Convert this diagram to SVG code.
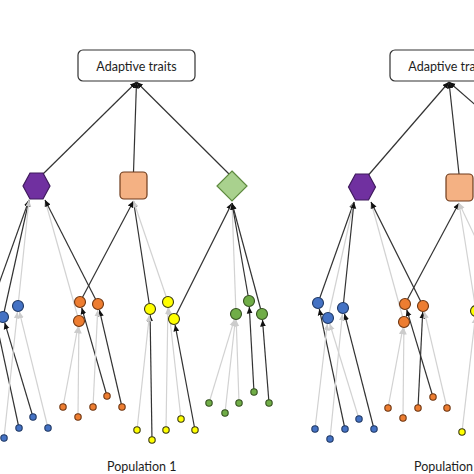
<svg xmlns="http://www.w3.org/2000/svg" width="474" height="474" viewBox="0 0 474 474">
<style>
.bg{fill:#ffffff}
.box{fill:#ffffff;stroke:#333333;stroke-width:1.2}
.lbl{font-family:Lato,"Open Sans","Liberation Sans",sans-serif;font-size:12.5px;fill:#1e1e1e}
.dk{stroke:#333333;stroke-width:1.2;fill:none;marker-end:url(#ad)}
.gr{stroke:#d2d2d2;stroke-width:1.2;fill:none;marker-end:url(#ag)}
.hex{fill:#7030a0;stroke:#3f1a5c;stroke-width:1.2}
.sq{fill:#f4b183;stroke:#6e3b1c;stroke-width:1.2}
.dia{fill:#a9d18e;stroke:#5e8a3f;stroke-width:1.2}
.b{fill:#4472c4;stroke:#1f3864;stroke-width:1.1}
.o{fill:#ed7d31;stroke:#6e3510;stroke-width:1.1}
.y{fill:#ffff00;stroke:#3a3a10;stroke-width:1.1}
.g{fill:#70ad47;stroke:#34501f;stroke-width:1.1}
</style>
<defs>
<marker id="ad" viewBox="0 0 10 10" refX="10" refY="5" markerWidth="6.5" markerHeight="6.5" markerUnits="userSpaceOnUse" orient="auto"><path d="M0,0.5 L10,5 L0,9.5 z" fill="#111111"/></marker>
<marker id="ag" viewBox="0 0 10 10" refX="10" refY="5" markerWidth="6.5" markerHeight="6.5" markerUnits="userSpaceOnUse" orient="auto"><path d="M0,0.5 L10,5 L0,9.5 z" fill="#cccccc"/></marker>
</defs>
<rect class="bg" x="0" y="0" width="474" height="474"/>

<g id="connectors">
<!-- left: traits to box -->
<line class="dk" x1="43" y1="174" x2="136.5" y2="82"/>
<line class="dk" x1="133.5" y1="172" x2="136.5" y2="82"/>
<line class="dk" x1="229" y1="174" x2="136.5" y2="82"/>
<!-- left: circles to traits -->
<line class="dk" x1="-8" y1="303" x2="29" y2="200"/>
<line class="dk" x1="3" y1="317" x2="29" y2="200"/>
<line class="gr" x1="18" y1="306" x2="29" y2="200"/>
<line class="gr" x1="79" y1="321" x2="45" y2="200"/>
<line class="dk" x1="98" y1="304" x2="45" y2="200"/>
<line class="dk" x1="80" y1="302" x2="133.5" y2="201"/>
<line class="dk" x1="150" y1="309" x2="133.5" y2="201"/>
<line class="gr" x1="168" y1="302" x2="133.5" y2="201"/>
<line class="dk" x1="174" y1="319" x2="232" y2="203"/>
<line class="gr" x1="236" y1="314" x2="232" y2="203"/>
<line class="dk" x1="249" y1="301" x2="232" y2="203"/>
<line class="dk" x1="262" y1="314" x2="232" y2="203"/>
<!-- left: dots to circles -->
<line class="dk" x1="19" y1="428" x2="-6.7" y2="308.9"/>
<line class="dk" x1="33" y1="417" x2="4.7" y2="322.7"/>
<line class="gr" x1="4" y1="438" x2="17.4" y2="312"/>
<line class="gr" x1="48" y1="428" x2="19.4" y2="311.8"/>
<line class="dk" x1="107" y1="396" x2="81.7" y2="307.8"/>
<line class="dk" x1="122" y1="407" x2="99.4" y2="309.8"/>
<line class="gr" x1="93" y1="407" x2="97.7" y2="310"/>
<line class="gr" x1="63" y1="407" x2="77.9" y2="326.9"/>
<line class="gr" x1="78" y1="417" x2="78.9" y2="327"/>
<line class="dk" x1="152" y1="440" x2="150.1" y2="315"/>
<line class="gr" x1="137" y1="430" x2="149.4" y2="315"/>
<line class="gr" x1="166" y1="430" x2="167.9" y2="308"/>
<line class="gr" x1="181" y1="419" x2="168.7" y2="308"/>
<line class="dk" x1="195" y1="430" x2="175.1" y2="324.9"/>
<line class="gr" x1="209" y1="403" x2="234.3" y2="319.7"/>
<line class="gr" x1="225" y1="413" x2="235.3" y2="320"/>
<line class="gr" x1="239" y1="403" x2="236.2" y2="320"/>
<line class="dk" x1="254" y1="392" x2="249.3" y2="307"/>
<line class="dk" x1="269" y1="403" x2="262.5" y2="320"/>
<!-- right: traits to box -->
<line class="dk" x1="368.5" y1="175" x2="449" y2="82"/>
<line class="dk" x1="459" y1="174" x2="449" y2="82"/>
<line class="dk" x1="555" y1="174" x2="449" y2="82"/>
<!-- right: circles to traits -->
<line class="dk" x1="318" y1="303" x2="354" y2="202"/>
<line class="gr" x1="328" y1="318" x2="354" y2="202"/>
<line class="dk" x1="343" y1="308" x2="354" y2="202"/>
<line class="gr" x1="404" y1="322" x2="371" y2="202"/>
<line class="dk" x1="423" y1="306" x2="371" y2="202"/>
<line class="dk" x1="405" y1="304" x2="459" y2="203"/>
<line class="gr" x1="476" y1="311" x2="459" y2="203"/>
<line class="gr" x1="505" y1="300" x2="459" y2="203"/>
<!-- right: dots to circles -->
<line class="dk" x1="345" y1="429" x2="319.3" y2="308.9"/>
<line class="dk" x1="374" y1="429" x2="344.5" y2="313.8"/>
<line class="gr" x1="315" y1="429" x2="327.3" y2="324"/>
<line class="gr" x1="359" y1="419" x2="329.8" y2="323.7"/>
<line class="gr" x1="330" y1="439" x2="342.4" y2="314"/>
<line class="dk" x1="433" y1="397" x2="406.7" y2="309.7"/>
<line class="gr" x1="388" y1="408" x2="402.9" y2="327.9"/>
<line class="gr" x1="403" y1="418" x2="403.9" y2="328"/>
<line class="dk" x1="418" y1="408" x2="422.7" y2="312"/>
<line class="gr" x1="447" y1="408" x2="424.4" y2="311.8"/>
<line class="gr" x1="462" y1="432" x2="475.3" y2="317"/>
</g>

<!-- LEFT PANEL NODES -->
<g id="box1"><rect class="box" x="78" y="50" width="117" height="31" rx="5"/><text class="lbl" x="136.5" y="70.5" text-anchor="middle">Adaptive traits</text></g>
<g id="hex1"><polygon class="hex" points="30,173 43,173 50,186 43,199 30,199 23,186"/></g>
<g id="sq1"><rect class="sq" x="120" y="172" width="27" height="27" rx="4"/></g>
<g id="dia1"><polygon class="dia" points="232,171 247,186 232,201 217,186"/></g>
<g id="blue1"><circle class="b" cx="-8" cy="303" r="5.5"/><circle class="b" cx="3" cy="317" r="5.5"/><circle class="b" cx="18" cy="306" r="5.5"/></g>
<g id="orange1"><circle class="o" cx="80" cy="302" r="5.5"/><circle class="o" cx="98" cy="304" r="5.5"/><circle class="o" cx="79" cy="321" r="5.5"/></g>
<g id="yellow1"><circle class="y" cx="150" cy="309" r="5.5"/><circle class="y" cx="168" cy="302" r="5.5"/><circle class="y" cx="174" cy="319" r="5.5"/></g>
<g id="green1"><circle class="g" cx="236" cy="314" r="5.5"/><circle class="g" cx="249" cy="301" r="5.5"/><circle class="g" cx="262" cy="314" r="5.5"/></g>
<g id="bluedots1"><circle class="b" cx="4" cy="438" r="3.2"/><circle class="b" cx="19" cy="428" r="3.2"/><circle class="b" cx="33" cy="417" r="3.2"/><circle class="b" cx="48" cy="428" r="3.2"/></g>
<g id="orangedots1"><circle class="o" cx="63" cy="407" r="3.2"/><circle class="o" cx="78" cy="417" r="3.2"/><circle class="o" cx="93" cy="407" r="3.2"/><circle class="o" cx="107" cy="396" r="3.2"/><circle class="o" cx="122" cy="407" r="3.2"/></g>
<g id="yellowdots1"><circle class="y" cx="137" cy="430" r="3.2"/><circle class="y" cx="152" cy="440" r="3.2"/><circle class="y" cx="166" cy="430" r="3.2"/><circle class="y" cx="181" cy="419" r="3.2"/><circle class="y" cx="195" cy="430" r="3.2"/></g>
<g id="greendots1"><circle class="g" cx="209" cy="403" r="3.2"/><circle class="g" cx="225" cy="413" r="3.2"/><circle class="g" cx="239" cy="403" r="3.2"/><circle class="g" cx="254" cy="392" r="3.2"/><circle class="g" cx="269" cy="403" r="3.2"/></g>
<g id="pop1"><text class="lbl" x="107" y="470.5">Population 1</text></g>

<!-- RIGHT PANEL NODES -->
<g id="box2"><rect class="box" x="390" y="50" width="117" height="31" rx="5"/><text class="lbl" x="448.5" y="70.5" text-anchor="middle">Adaptive traits</text></g>
<g id="hex2"><polygon class="hex" points="355.5,174 368.5,174 375.5,187 368.5,200 355.5,200 348.5,187"/></g>
<g id="sq2"><rect class="sq" x="446" y="174" width="27" height="27" rx="4"/></g>
<g id="blue2"><circle class="b" cx="318" cy="303" r="5.5"/><circle class="b" cx="328" cy="318" r="5.5"/><circle class="b" cx="343" cy="308" r="5.5"/></g>
<g id="orange2"><circle class="o" cx="405" cy="304" r="5.5"/><circle class="o" cx="423" cy="306" r="5.5"/><circle class="o" cx="404" cy="322" r="5.5"/></g>
<g id="yellow2"><circle class="y" cx="476" cy="311" r="5.5"/></g>
<g id="bluedots2"><circle class="b" cx="315" cy="429" r="3.2"/><circle class="b" cx="330" cy="439" r="3.2"/><circle class="b" cx="345" cy="429" r="3.2"/><circle class="b" cx="359" cy="419" r="3.2"/><circle class="b" cx="374" cy="429" r="3.2"/></g>
<g id="orangedots2"><circle class="o" cx="388" cy="408" r="3.2"/><circle class="o" cx="403" cy="418" r="3.2"/><circle class="o" cx="418" cy="408" r="3.2"/><circle class="o" cx="433" cy="397" r="3.2"/><circle class="o" cx="447" cy="408" r="3.2"/></g>
<g id="yellowdots2"><circle class="y" cx="462" cy="432" r="3.2"/></g>
<g id="pop2"><text class="lbl" x="414" y="470.5">Population 2</text></g>
</svg>
